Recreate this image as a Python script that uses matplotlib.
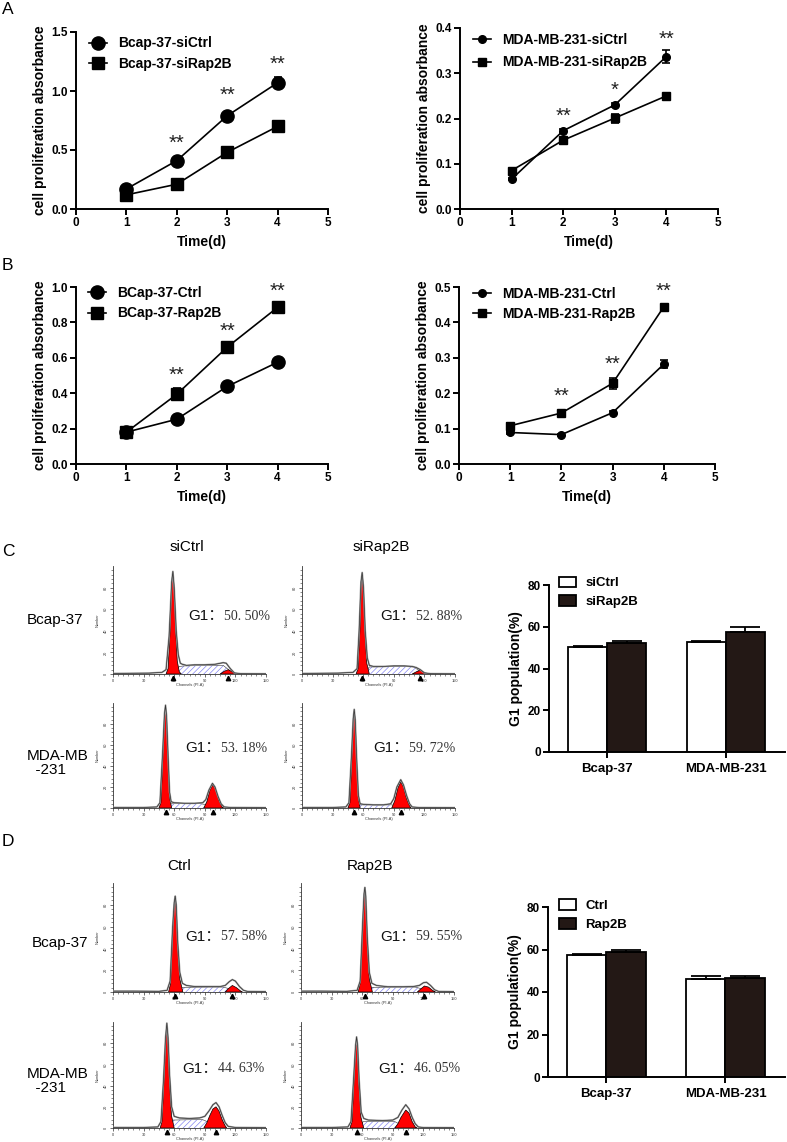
import matplotlib
matplotlib.use('Agg')
import matplotlib.pyplot as plt
import numpy as np

plt.rcParams['font.family'] = ['Liberation Sans', 'DejaVu Sans']
plt.rcParams['hatch.linewidth'] = 0.45

# ---------------- DATA ----------------
days = [1, 2, 3, 4]

# Panel A (left): Bcap-37 siRNA
a1_labels = ['Bcap-37-siCtrl', 'Bcap-37-siRap2B']
a1_ctrl = [0.17, 0.41, 0.79, 1.07]
a1_ctrl_err = [0.01, 0.02, 0.02, 0.045]
a1_rap = [0.12, 0.21, 0.48, 0.70]
a1_rap_err = [0.01, 0.01, 0.02, 0.02]
a1_star_days = [2, 3, 4]
a1_star_y = [0.56, 0.96, 1.23]
a1_star_txt = ['**', '**', '**']

# Panel A (right): MDA-MB-231 siRNA
a2_labels = ['MDA-MB-231-siCtrl', 'MDA-MB-231-siRap2B']
a2_ctrl = [0.066, 0.173, 0.230, 0.337]
a2_ctrl_err = [0.003, 0.004, 0.005, 0.015]
a2_rap = [0.085, 0.152, 0.201, 0.250]
a2_rap_err = [0.004, 0.003, 0.010, 0.004]
a2_star_days = [2, 3, 4]
a2_star_y = [0.204, 0.263, 0.376]
a2_star_txt = ['**', '*', '**']

# Panel B (left): BCap-37 overexpression
b1_labels = ['BCap-37-Ctrl', 'BCap-37-Rap2B']
b1_ctrl = [0.18, 0.253, 0.438, 0.575]
b1_ctrl_err = [0.01, 0.01, 0.01, 0.01]
b1_rap = [0.18, 0.394, 0.66, 0.885]
b1_rap_err = [0.02, 0.033, 0.02, 0.02]
b1_star_days = [2, 3, 4]
b1_star_y = [0.50, 0.75, 0.975]
b1_star_txt = ['**', '**', '**']

# Panel B (right): MDA-MB-231 overexpression
b2_labels = ['MDA-MB-231-Ctrl', 'MDA-MB-231-Rap2B']
b2_ctrl = [0.089, 0.083, 0.145, 0.282]
b2_ctrl_err = [0.004, 0.003, 0.004, 0.012]
b2_rap = [0.108, 0.144, 0.228, 0.444]
b2_rap_err = [0.008, 0.005, 0.015, 0.006]
b2_star_days = [2, 3, 4]
b2_star_y = [0.192, 0.282, 0.488]
b2_star_txt = ['**', '**', '**']

# Bar charts: G1 population (%)
bar_groups = ['Bcap-37', 'MDA-MB-231']
c_labels = ['siCtrl', 'siRap2B']
c_ctrl = [50.5, 52.6]
c_ctrl_err = [0.3, 0.8]
c_rap = [52.2, 57.3]
c_rap_err = [0.9, 2.5]
d_labels = ['Ctrl', 'Rap2B']
d_ctrl = [57.2, 46.1]
d_ctrl_err = [0.8, 1.6]
d_rap = [58.6, 46.8]
d_rap_err = [1.3, 0.5]

# Flow cytometry G1 percentages (text)
c_g1_text = ['50. 50%', '52. 88%', '53. 18%', '59. 72%']
d_g1_text = ['57. 58%', '59. 55%', '44. 63%', '46. 05%']
c_cols = ['siCtrl', 'siRap2B']
d_cols = ['Ctrl', 'Rap2B']
row_labels = ['Bcap-37', 'MDA-MB\n  -231']

# Flow cytometry histograms (channel, relative count)
c1_outline = [(0,0.5),(35,0.8),(48,1.5),(52,4),(55,35),(57.5,85),(58.7,95),(60,80),(62,40),(64,18),(66,10),(68,9),(72,8),(80,8.5),(90,8.5),(100,9),(108,10.5),(111,10),(115,5),(119,1),(125,0.3),(150,0.2)]
c1_g1 = [(52,0),(54,5),(56,40),(57.5,85),(58.7,94),(60,78),(61.5,40),(63,12),(65,2),(67,0)]
c1_g2 = [(105,0),(109,2.5),(113,4),(117,2),(121,0)]
c1_s = [(60,0),(65,7),(70,7.5),(100,8),(108,8),(116,2),(118,0)]

c2_outline = [(0,0.5),(35,0.8),(50,1.5),(54,5),(56,40),(57.8,85),(59,94),(60.3,80),(62,40),(64,15),(66,8),(70,7),(80,7),(90,7.5),(100,7.5),(108,7),(112,6),(116,4),(120,1),(126,0.3),(150,0.2)]
c2_g1 = [(53,0),(55,5),(57,45),(58,85),(59,93),(60.2,78),(61.8,38),(63.5,10),(66,0)]
c2_g2 = [(108,0),(112,2),(116,3.5),(120,1.5),(124,0)]
c2_s = [(61,0),(66,6.5),(100,7),(110,6.5),(116,2),(119,0)]

c3_outline = [(0,0.5),(30,0.5),(43,1),(46,5),(48.5,50),(50.5,90),(51.5,98),(52.5,88),(54,50),(55.5,15),(57,6),(60,5),(70,4.5),(80,4.5),(88,5),(91,8),(94,17),(97.5,23.5),(100,20),(103,11),(106,4),(109,1),(115,0.5),(150,0.3)]
c3_g1 = [(45,0),(47,5),(49,50),(50.5,88),(51.5,96),(52.5,85),(54,45),(55.5,10),(57.5,0)]
c3_g2 = [(89,0),(92,6),(95,17),(97.8,22),(100.5,18),(104,7),(107,1),(109,0)]
c3_s = [(53,0),(57,4),(70,4.3),(85,4.3),(92,3),(97,0)]

c4_outline = [(0,0.5),(30,0.5),(43,1),(46,5),(48.5,50),(50.2,85),(51.2,94),(52.2,84),(53.7,45),(55.3,12),(57,4),(60,3.5),(70,3),(80,3),(87,4),(90,9),(93,20),(96.8,27),(99.5,22),(102.5,12),(105.5,4),(108,1),(115,0.4),(150,0.3)]
c4_g1 = [(45,0),(47,5),(49,50),(50.3,84),(51.2,92),(52.2,82),(53.6,42),(55.2,10),(57,0)]
c4_g2 = [(88,0),(91,7),(94,19),(96.8,25),(99.5,20),(102.5,9),(105.5,2),(107,0)]
c4_s = [(53,0),(57,3),(80,3),(88,3),(92,2),(96,0)]

d1_outline = [(0,0.8),(20,0.8),(45,0.6),(53,1.5),(56,10),(58.5,60),(60,82),(61,88),(62,80),(63.5,45),(65.5,18),(68,8),(72,6),(80,5),(95,5),(105,5),(110,6),(114,9.5),(117,11.4),(120,10),(124,5),(128,1.5),(132,0.5),(150,0.3)]
d1_g1 = [(54.5,0),(56.5,8),(58.5,55),(60,80),(61,86),(62,76),(63.5,40),(65.5,12),(68.5,0)]
d1_g2 = [(110,0),(113,3),(117,6),(121,4),(125,1),(127,0)]
d1_s = [(63,0),(68,4.2),(95,4.5),(108,4.5),(114,3),(118,0)]

d2_outline = [(0,0.8),(20,0.8),(45,0.6),(55,1.5),(58,10),(60.5,65),(61.8,90),(62.6,96),(63.5,88),(65,50),(67,18),(69.5,8),(74,6),(85,4.8),(100,4.8),(110,5),(116,6),(120,8.5),(123,9),(127,6),(131,2),(135,0.5),(150,0.3)]
d2_g1 = [(56,0),(58,8),(60.5,60),(61.8,88),(62.6,94),(63.5,84),(65,45),(67,12),(70,0)]
d2_g2 = [(114,0),(117,2.5),(121,5.5),(125,4.5),(129,1.5),(132,0)]
d2_s = [(65,0),(70,4.3),(100,4.5),(112,4.5),(118,3),(122,0)]

d3_outline = [(0,0.5),(30,0.5),(44,1),(47,6),(49.5,45),(51.5,85),(52.8,99),(54,85),(55.5,50),(57.5,20),(60,11),(65,9.5),(75,9),(85,9.5),(90,11),(94,16),(98,22),(101,24),(104,20),(107,12),(110,5),(113,1.5),(120,0.5),(150,0.3)]
d3_g1 = [(46.3,0),(48,6),(50,45),(51.8,85),(52.8,97),(53.8,83),(55.3,45),(57.3,12),(60,0)]
d3_g2 = [(89,0),(92,5),(95,12),(98,18),(101,20),(104,16),(107,8),(110,2),(111.5,0)]
d3_s = [(55,0),(59,7.5),(75,7.8),(88,7.8),(95,5),(101,0)]

d4_outline = [(0,0.5),(30,0.5),(46,1),(49,6),(51.5,45),(53.5,78),(54.5,86),(55.5,78),(57,45),(59,15),(61.5,9),(66,7.5),(80,7),(90,7.5),(95,10),(99,17),(102.7,22),(106,18),(109,10),(112,4),(115,1),(120,0.4),(150,0.3)]
d4_g1 = [(48,0),(50,6),(52,45),(53.7,78),(54.5,84),(55.3,75),(56.8,40),(58.8,10),(61.5,0)]
d4_g2 = [(92,0),(95,4),(98,10),(102.7,17),(106,14),(109,6),(112,1),(114,0)]
d4_s = [(57,0),(61,6),(80,6),(92,6),(98,3),(103,0)]

# ---------------- FIGURE ----------------
W, H = 787, 1142
fig = plt.figure(figsize=(W / 100, H / 100), dpi=100)
BLACK = '#231815'


def px_axes(l, t, r, b):
    return fig.add_axes([l / W, 1 - b / H, (r - l) / W, (b - t) / H])


def ftext(x, y, s, **kw):
    fig.text(x / W, 1 - y / H, s, **kw)


def line_panel(rect, ymax, ystep, ctrl, ctrl_err, rap, rap_err, labels,
               star_days, star_y, star_txt, ms_c, ms_s, leg_anchor, leg_space):
    ax = px_axes(*rect)
    ax.errorbar(days, ctrl, yerr=ctrl_err, fmt='none', ecolor='k', elinewidth=1.2,
                capsize=3, capthick=1.2, zorder=2)
    ax.errorbar(days, rap, yerr=rap_err, fmt='none', ecolor='k', elinewidth=1.2,
                capsize=3, capthick=1.2, zorder=2)
    ax.plot(days, ctrl, color='k', lw=1.2, marker='o', ms=ms_c, label=labels[0], zorder=3)
    ax.plot(days, rap, color='k', lw=1.2, marker='s', ms=ms_s, label=labels[1], zorder=3)
    for d, y, t in zip(star_days, star_y, star_txt):
        ax.text(d, y, t, ha='center', va='center', fontsize=14.5, color='#222222')
    ax.set_xlim(0, 5)
    ax.set_ylim(0, ymax)
    ax.set_xticks(range(0, 6))
    yt = np.arange(0, ymax + 1e-9, ystep)
    ax.set_yticks(yt)
    ax.set_yticklabels(['%.1f' % v for v in yt])
    for s in ['top', 'right']:
        ax.spines[s].set_visible(False)
    for s in ['left', 'bottom']:
        ax.spines[s].set_linewidth(1.4)
    ax.tick_params(direction='out', length=4, width=1.4, labelsize=8.5, pad=2)
    for lab in ax.get_xticklabels() + ax.get_yticklabels():
        lab.set_fontweight('bold')
    ax.set_xlabel('Time(d)', fontsize=10, fontweight='bold', labelpad=4)
    ax.set_ylabel('cell proliferation absorbance', fontsize=10, fontweight='bold', labelpad=3)
    ax.legend(loc='upper left', bbox_to_anchor=leg_anchor, frameon=False,
              prop=dict(weight='bold', size=10), handlelength=1.3, handletextpad=0.8,
              labelspacing=leg_space, borderpad=0, borderaxespad=0, numpoints=1)
    return ax


line_panel((76, 32, 328, 209), 1.5, 0.5, a1_ctrl, a1_ctrl_err, a1_rap, a1_rap_err, a1_labels,
           a1_star_days, a1_star_y, a1_star_txt, 9.5, 8.5, (0.05, 0.975), 0.45)
line_panel((460, 28, 718, 209), 0.4, 0.1, a2_ctrl, a2_ctrl_err, a2_rap, a2_rap_err, a2_labels,
           a2_star_days, a2_star_y, a2_star_txt, 5.5, 6.0, (0.05, 0.972), 0.6)
line_panel((76, 287, 328, 464), 1.0, 0.2, b1_ctrl, b1_ctrl_err, b1_rap, b1_rap_err, b1_labels,
           b1_star_days, b1_star_y, b1_star_txt, 9.5, 8.5, (0.048, 1.005), 0.45)
line_panel((459, 287, 715, 464), 0.5, 0.1, b2_ctrl, b2_ctrl_err, b2_rap, b2_rap_err, b2_labels,
           b2_star_days, b2_star_y, b2_star_txt, 5.5, 6.0, (0.055, 1.0), 0.45)


def hist_panel(rect, outline, g1, g2, s_region):
    ax = px_axes(*rect)
    sx, sy = zip(*s_region)
    ax.fill(sx, sy, facecolor='white', edgecolor='#7a7af0', hatch='//////', lw=0, zorder=1)
    ax.plot(sx, sy, color='#333333', lw=0.4, zorder=2)
    gx, gy = zip(*g1)
    ax.fill(gx, gy, facecolor='#ff0000', edgecolor='k', lw=0.5, zorder=3)
    hx, hy = zip(*g2)
    ax.fill(hx, hy, facecolor='#ff0000', edgecolor='k', lw=0.5, zorder=3)
    ox, oy = zip(*outline)
    ax.plot(ox, oy, color='#a0a0a0', lw=1.3, zorder=4)
    ax.plot(ox, oy, color='#333333', lw=0.5, zorder=5)
    peaks = [gx[int(np.argmax(gy))], hx[int(np.argmax(hy))]]
    ax.plot(peaks, [-3.5, -3.5], linestyle='none', marker='^', ms=3.2, color='k',
            clip_on=False, zorder=6)
    ax.set_xlim(0, 150)
    ax.set_ylim(0, 100)
    for s in ['top', 'right']:
        ax.spines[s].set_visible(False)
    for s in ['left', 'bottom']:
        ax.spines[s].set_linewidth(0.6)
        ax.spines[s].set_color('#333333')
    ax.set_xticks(np.arange(0, 151, 30))
    ax.set_xticks(np.arange(0, 151, 5), minor=True)
    ax.set_yticks(np.arange(0, 100, 20))
    ax.set_yticks(np.arange(0, 100, 4), minor=True)
    ax.tick_params(which='major', direction='out', length=2.5, width=0.5, labelsize=2.8,
                   pad=1, colors='#333333')
    ax.tick_params(which='minor', direction='out', length=1.4, width=0.4, colors='#333333')
    plt.setp(ax.get_yticklabels(), rotation=90, va='center')
    ax.text(0.5, -0.085, 'Channels (PI-A)', transform=ax.transAxes, ha='center', va='top',
            fontsize=2.8, color='#333333')
    ax.text(-0.1, 0.5, 'Number', transform=ax.transAxes, ha='center', va='center',
            rotation=90, fontsize=2.8, color='#333333')
    return ax


hist_panel((113, 566, 266, 674), c1_outline, c1_g1, c1_g2, c1_s)
hist_panel((302, 566, 455, 674), c2_outline, c2_g1, c2_g2, c2_s)
hist_panel((113, 703, 266, 808), c3_outline, c3_g1, c3_g2, c3_s)
hist_panel((302, 703, 455, 808), c4_outline, c4_g1, c4_g2, c4_s)
hist_panel((113, 883, 266, 992), d1_outline, d1_g1, d1_g2, d1_s)
hist_panel((301, 883, 454, 992), d2_outline, d2_g1, d2_g2, d2_s)
hist_panel((113, 1022, 266, 1128), d3_outline, d3_g1, d3_g2, d3_s)
hist_panel((301, 1022, 454, 1128), d4_outline, d4_g1, d4_g2, d4_s)

CJK = ['Liberation Sans', 'Noto Sans CJK SC']


def g1_label(x, y, num):
    ftext(x, y, 'G1：', fontsize=11, family=CJK, ha='left', va='center', color='#111111')
    ftext(x + 36, y, num, fontsize=10, family=['Liberation Serif', 'DejaVu Serif'],
          ha='left', va='center', color='#333333')


g1_label(188, 616, c_g1_text[0])
g1_label(380, 616, c_g1_text[1])
g1_label(185, 748, c_g1_text[2])
g1_label(373, 748, c_g1_text[3])
g1_label(185, 937, d_g1_text[0])
g1_label(380, 937, d_g1_text[1])
g1_label(182, 1069, d_g1_text[2])
g1_label(378, 1069, d_g1_text[3])

ftext(187, 547, c_cols[0], fontsize=11, ha='center', va='center')
ftext(381, 547, c_cols[1], fontsize=11, ha='center', va='center')
ftext(179, 866, d_cols[0], fontsize=11, ha='center', va='center')
ftext(370, 866, d_cols[1], fontsize=11, ha='center', va='center')

ftext(27, 620, row_labels[0], fontsize=11, ha='left', va='center')
ftext(27, 763, row_labels[1], fontsize=11, ha='left', va='center', linespacing=1.0)
ftext(32, 943, row_labels[0], fontsize=11, ha='left', va='center')
ftext(27, 1081, row_labels[1], fontsize=11, ha='left', va='center', linespacing=1.0)

for letter, y in zip(['A', 'B', 'C', 'D'], [10, 266, 551, 842]):
    ftext(2, y, letter, fontsize=12.5, ha='left', va='center')


def bar_panel(rect, ctrl, ctrl_err, rap, rap_err, labels, leg_anchor):
    ax = px_axes(*rect)
    x = np.arange(len(bar_groups))
    w = 0.33
    ekw = dict(elinewidth=1.3, capthick=1.3, ecolor='k')
    ax.bar(x - w / 2, ctrl, width=w, color='white', edgecolor='k', lw=1.3, label=labels[0],
           yerr=[[0] * len(ctrl), ctrl_err], capsize=10.5, error_kw=ekw, zorder=2)
    ax.bar(x + w / 2, rap, width=w, color=BLACK, edgecolor='k', lw=1.3, label=labels[1],
           yerr=[[0] * len(rap), rap_err], capsize=10.5, error_kw=ekw, zorder=2)
    ax.set_xlim(-0.49, 1.5)
    ax.set_ylim(0, 80)
    ax.set_xticks(x)
    ax.set_xticklabels(bar_groups)
    ax.set_yticks(np.arange(0, 81, 20))
    for s in ['top', 'right']:
        ax.spines[s].set_visible(False)
    for s in ['left', 'bottom']:
        ax.spines[s].set_linewidth(1.4)
    ax.tick_params(direction='out', length=4, width=1.4, pad=2)
    ax.tick_params(axis='y', labelsize=8.5)
    ax.tick_params(axis='x', labelsize=9.5, pad=4)
    for lab in ax.get_xticklabels() + ax.get_yticklabels():
        lab.set_fontweight('bold')
    ax.set_ylabel('G1 population(%)', fontsize=10, fontweight='bold', labelpad=3)
    ax.legend(loc='upper left', bbox_to_anchor=leg_anchor, frameon=False,
              prop=dict(weight='bold', size=9.5), handlelength=1.3, handleheight=0.85,
              handletextpad=0.7, labelspacing=0.45, borderpad=0, borderaxespad=0)
    return ax


bar_panel((549, 585, 785, 752), c_ctrl, c_ctrl_err, c_rap, c_rap_err, c_labels, (0.042, 1.05))
bar_panel((548, 907, 785, 1077), d_ctrl, d_ctrl_err, d_rap, d_rap_err, d_labels, (0.046, 1.045))

fig.savefig('out.png', dpi=100)
